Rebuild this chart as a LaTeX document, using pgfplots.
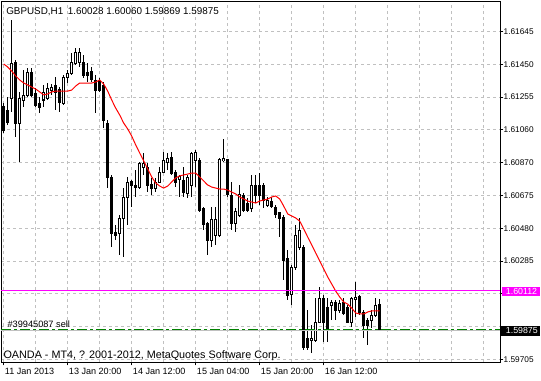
\documentclass[border=0pt]{standalone}
\usepackage{pgfplots}
\pgfplotsset{compat=1.18}
\usepackage{pgfplotstable}
\usepackage{fontspec}
\setmainfont{Liberation Sans}
\definecolor{gridc}{RGB}{192,192,192}
\definecolor{mag}{RGB}{255,0,255}
\definecolor{ordgreen}{RGB}{0,128,0}

% i = bar index (H1 bars), O H L C, M = moving average
\pgfplotstableread{
i O H L C M
0 1.61203 1.61221 1.61043 1.61061 1.61453
1 1.61180 1.61257 1.61090 1.61108 1.61435
2 1.61251 1.61714 1.61168 1.61459 1.61411
3 1.61465 1.61477 1.61019 1.61102 1.61382
4 1.61102 1.61287 1.60871 1.61251 1.61358
5 1.61239 1.61417 1.61197 1.61269 1.61340
6 1.61269 1.61429 1.61257 1.61405 1.61328
7 1.61405 1.61429 1.61257 1.61269 1.61316
8 1.61281 1.61310 1.61197 1.61209 1.61304
9 1.61221 1.61257 1.61162 1.61197 1.61287
10 1.61239 1.61328 1.61197 1.61281 1.61269
11 1.61251 1.61340 1.61239 1.61310 1.61275
12 1.61298 1.61334 1.61269 1.61316 1.61287
13 1.61328 1.61376 1.61180 1.61287 1.61292
14 1.61298 1.61316 1.61168 1.61221 1.61292
15 1.61221 1.61388 1.61209 1.61376 1.61292
16 1.61376 1.61417 1.61340 1.61399 1.61292
17 1.61399 1.61518 1.61388 1.61459 1.61298
18 1.61459 1.61548 1.61447 1.61524 1.61322
19 1.61465 1.61548 1.61435 1.61524 1.61340
20 1.61465 1.61506 1.61370 1.61388 1.61340
21 1.61405 1.61459 1.61346 1.61388 1.61340
22 1.61405 1.61435 1.61346 1.61358 1.61340
23 1.61358 1.61388 1.61162 1.61298 1.61346
24 1.61346 1.61370 1.61287 1.61298 1.61358
25 1.61328 1.61346 1.61073 1.61120 1.61334
26 1.61102 1.61120 1.60716 1.60782 1.61292
27 1.60782 1.60794 1.60366 1.60449 1.61239
28 1.60455 1.60497 1.60407 1.60437 1.61191
29 1.60449 1.60556 1.60318 1.60538 1.61150
30 1.60538 1.60716 1.60306 1.60663 1.61102
31 1.60663 1.60782 1.60497 1.60752 1.61067
32 1.60758 1.60764 1.60603 1.60734 1.61025
33 1.60734 1.60823 1.60663 1.60722 1.60972
34 1.60722 1.60871 1.60710 1.60865 1.60924
35 1.60841 1.60924 1.60794 1.60865 1.60877
36 1.60841 1.60865 1.60692 1.60734 1.60829
37 1.60740 1.60776 1.60675 1.60716 1.60782
38 1.60716 1.60776 1.60692 1.60752 1.60746
39 1.60752 1.60841 1.60746 1.60811 1.60728
40 1.60811 1.60930 1.60805 1.60883 1.60716
41 1.60871 1.60924 1.60823 1.60894 1.60728
42 1.60900 1.60930 1.60794 1.60805 1.60752
43 1.60811 1.60823 1.60722 1.60752 1.60776
44 1.60764 1.60794 1.60663 1.60782 1.60788
45 1.60764 1.60841 1.60663 1.60692 1.60794
46 1.60687 1.60794 1.60657 1.60782 1.60799
47 1.60734 1.60930 1.60663 1.60924 1.60805
48 1.60883 1.60942 1.60722 1.60930 1.60805
49 1.60883 1.60894 1.60574 1.60586 1.60782
50 1.60597 1.60603 1.60467 1.60497 1.60758
51 1.60508 1.60514 1.60318 1.60407 1.60734
52 1.60407 1.60603 1.60366 1.60532 1.60722
53 1.60437 1.60603 1.60378 1.60532 1.60716
54 1.60437 1.60894 1.60425 1.60883 1.60710
55 1.60877 1.61007 1.60871 1.60889 1.60710
56 1.60883 1.60889 1.60663 1.60675 1.60704
57 1.60675 1.60752 1.60467 1.60508 1.60692
58 1.60508 1.60597 1.60455 1.60574 1.60681
59 1.60556 1.60734 1.60544 1.60681 1.60663
60 1.60675 1.60687 1.60574 1.60586 1.60651
61 1.60627 1.60657 1.60574 1.60586 1.60639
62 1.60597 1.60794 1.60574 1.60734 1.60633
63 1.60734 1.60794 1.60627 1.60675 1.60627
64 1.60734 1.60805 1.60615 1.60675 1.60639
65 1.60734 1.60746 1.60597 1.60645 1.60645
66 1.60615 1.60663 1.60603 1.60645 1.60651
67 1.60639 1.60663 1.60597 1.60609 1.60663
68 1.60603 1.60615 1.60538 1.60562 1.60669
69 1.60568 1.60574 1.60425 1.60538 1.60651
70 1.60544 1.60556 1.60170 1.60289 1.60609
71 1.60300 1.60348 1.60051 1.60081 1.60562
72 1.60081 1.60259 1.60021 1.60247 1.60550
73 1.60247 1.60497 1.60229 1.60437 1.60538
74 1.60366 1.60538 1.60348 1.60467 1.60520
75 1.60366 1.60378 1.59754 1.59772 1.60473
76 1.59825 1.59992 1.59754 1.59772 1.60425
77 1.59813 1.59902 1.59736 1.59825 1.60378
78 1.59813 1.60063 1.59801 1.59920 1.60330
79 1.59920 1.60128 1.59914 1.60063 1.60283
80 1.60063 1.60081 1.59801 1.59920 1.60235
81 1.60009 1.60063 1.59801 1.59873 1.60188
82 1.60021 1.60051 1.59932 1.60039 1.60146
83 1.60039 1.60051 1.59932 1.59992 1.60104
84 1.59992 1.60051 1.59974 1.60033 1.60069
85 1.60039 1.60063 1.59962 1.59974 1.60039
86 1.60009 1.60021 1.59914 1.59920 1.60027
87 1.59920 1.60069 1.59891 1.60063 1.60003
88 1.60057 1.60158 1.59950 1.60069 1.59974
89 1.60075 1.60081 1.59962 1.59980 1.59968
90 1.59980 1.59992 1.59825 1.59902 1.59968
91 1.59932 1.59944 1.59784 1.59902 1.59980
92 1.59932 1.59992 1.59885 1.59962 1.59986
93 1.59962 1.60063 1.59950 1.60021 1.59986
94 1.60028 1.60060 1.59869 1.59875 1.59986
}\bars

\begin{document}
\begin{tikzpicture}
\begin{axis}[
  at={(0.75pt,-271.5pt)}, anchor=south west,
  width=374.25pt, height=270.75pt, scale only axis,
  xmin=-0.675, xmax=124.075, ymin=1.596827, ymax=1.61827,
  axis line style={line width=0.75pt, black},
  xtick={0,16,32,48,64,80},
  xticklabels={11 Jan 2013,13 Jan 20:00,14 Jan 12:00,15 Jan 04:00,15 Jan 20:00,16 Jan 12:00},
  minor xtick={8,24,40,56,72,88,96,104,112,120},
  ytick={1.616459,1.614511,1.612562,1.610614,1.608666,1.606717,1.604769,1.602821,1.600872,1.598924,1.596976},
  yticklabels={1.61645,1.61450,1.61255,1.61060,1.60870,1.60675,1.60480,1.60285,,,1.59705},
  scaled y ticks=false,
  grid=both,
  grid style={gridc, line width=0.75pt, dash pattern=on 2.6pt off 1.9pt},
  xtick pos=left, ytick pos=right, yticklabel pos=right,
  tick align=outside,
  major tick length=2.6pt, minor tick length=0pt,
  tick style={black, line width=0.75pt},
  xticklabel style={font=\fontsize{6.8}{7}\selectfont, anchor=north west, inner sep=0pt, xshift=0.75pt, yshift=-1.5pt},
  yticklabel style={font=\fontsize{6.2}{7}\selectfont, inner sep=0pt},
  candle/.style={draw=none, mark=none, forget plot},
]
% wicks
\addplot[candle, error bars/.cd, y dir=both, y explicit, error mark=none,
  error bar style={draw=black, line width=0.75pt}]
  table[x=i, y expr={(\thisrow{H}+\thisrow{L})/2}, y error expr={(\thisrow{H}-\thisrow{L})/2}] {\bars};
% bearish bodies
\addplot[candle, restrict expr to domain={\thisrow{O}-\thisrow{C}}{0:1},
  error bars/.cd, y dir=both, y explicit, error mark=none,
  error bar style={draw=black, line width=2.25pt}]
  table[x=i, y expr={(\thisrow{O}+\thisrow{C})/2}, y error expr={abs(\thisrow{O}-\thisrow{C})/2+0.00003}] {\bars};
% bullish bodies: outline
\addplot[candle, restrict expr to domain={\thisrow{C}-\thisrow{O}}{0.000001:1},
  error bars/.cd, y dir=both, y explicit, error mark=none,
  error bar style={draw=black, line width=2.25pt}]
  table[x=i, y expr={(\thisrow{O}+\thisrow{C})/2}, y error expr={abs(\thisrow{O}-\thisrow{C})/2+0.00003}] {\bars};
% bullish bodies: white interior
\addplot[candle, restrict expr to domain={\thisrow{C}-\thisrow{O}}{0.000001:1},
  error bars/.cd, y dir=both, y explicit, error mark=none,
  error bar style={draw=white, line width=0.75pt}]
  table[x=i, y expr={(\thisrow{O}+\thisrow{C})/2}, y error expr={max(abs(\thisrow{O}-\thisrow{C})/2-0.00003,0)}] {\bars};
% moving average
\addplot[red, line width=0.75pt, mark=none] table[x=i, y=M] {\bars};
% bid line, order line, alert line
\addplot[gridc, line width=0.75pt, mark=none] coordinates {(-0.675,1.59869) (124.075,1.59869)};
\addplot[ordgreen, line width=0.75pt, mark=none, dash pattern=on 7.5pt off 2.25pt on 2.25pt off 2.25pt] coordinates {(-0.675,1.59875) (124.075,1.59875)};
\addplot[mag, line width=0.75pt, mark=none] coordinates {(-0.675,1.60105) (124.075,1.60105)};
\end{axis}
\begin{scope}[x=0.75pt,y=-0.75pt]
\node[anchor=base west, inner sep=0pt, font=\fontsize{7.4}{8}\selectfont] at (6,14.5) {GBPUSD,H1};
\node[anchor=base west, inner sep=0pt, font=\fontsize{7.4}{8}\selectfont] at (67.7,14.5) {1.60028 1.60060 1.59869 1.59875};
\node[anchor=base west, inner sep=0pt, font=\fontsize{8.1}{9}\selectfont] at (3.3,358.5) {OANDA - MT4, ? 2001-2012, MetaQuotes Software Corp.};
\node[anchor=base west, inner sep=0pt, font=\fontsize{6.9}{8}\selectfont] at (7.3,327.3) {\#39945087 sell};
\fill[mag] (502,286.5) rectangle (540,295.7);
\node[white, anchor=west, inner sep=0pt, font=\fontsize{6.6}{7}\selectfont] at (505.7,291.1) {1.60112};
\fill[black] (500.5,326) rectangle (540,335.5);
\node[white, anchor=west, inner sep=0pt, font=\fontsize{6.6}{7}\selectfont] at (505.7,330.8) {1.59875};
\end{scope}
\pgfresetboundingbox
\path[use as bounding box] (0,0) rectangle (405.75pt,-285pt);
\end{tikzpicture}
\end{document}
